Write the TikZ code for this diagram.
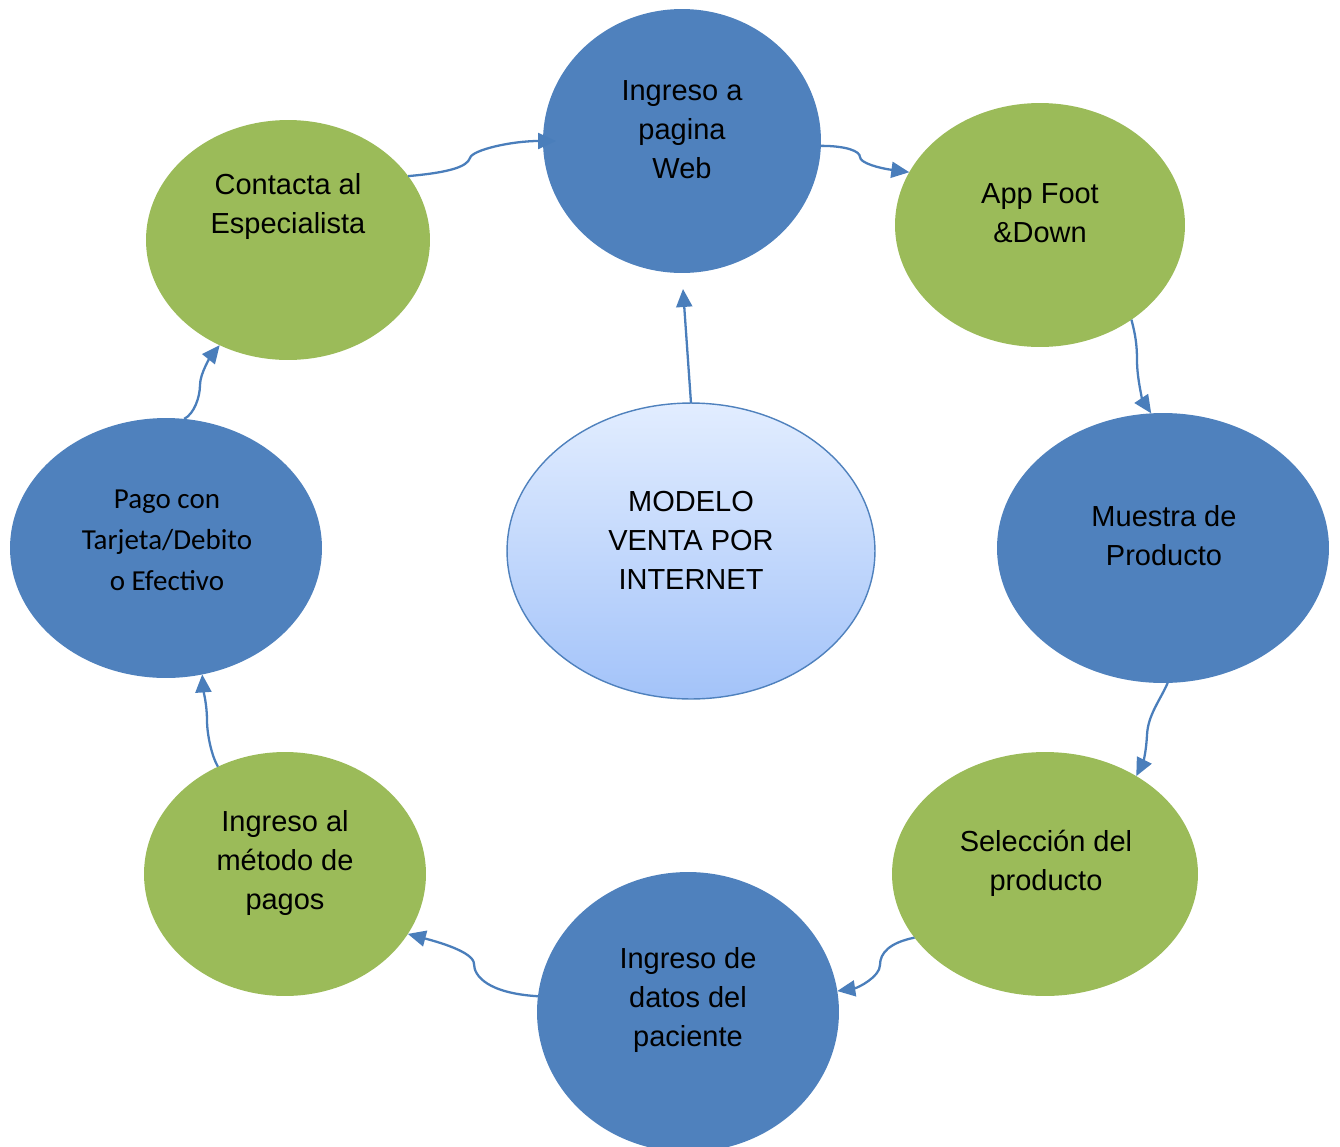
\documentclass[tikz,border=0pt]{standalone}
\usepackage{fontspec}
\setmainfont{Liberation Sans}
\newfontfamily\calibri{Carlito}
\usetikzlibrary{positioning, arrows.meta, shapes.geometric, calc}
\definecolor{bubblue}{HTML}{4F81BD}
\definecolor{bubgreen}{HTML}{9BBB59}
\definecolor{flowblue}{HTML}{4A7EBB}
\definecolor{hubtop}{HTML}{E2EDFF}
\definecolor{hubbottom}{HTML}{A3C3F9}

\begin{document}
\begin{tikzpicture}[
        x=0.02cm, y=-0.02cm,
        bubble/.style={ellipse, inner sep=0pt, outer sep=0pt},
        bluebub/.style={bubble, fill=bubblue},
        greenbub/.style={bubble, fill=bubgreen},
        txt/.style={align=center, font=\fontsize{16.5}{22.2}\selectfont},
        flow/.style={draw=flowblue, line width=1.3pt, -{Triangle[length=0.36cm, width=0.32cm]}},
    ]
        \useasboundingbox (0,0) rectangle (1340,1147);

        % Centre of the cycle
        \node[bubble, draw=bubblue, line width=0.8pt, top color=hubtop, bottom color=hubbottom,
              minimum width=7.36cm, minimum height=5.92cm] (hub) at (691,551) {};
        \node[txt] (hub-t) at (691,540) {MODELO\\VENTA POR\\INTERNET};

        % Steps round the cycle
        \node[bluebub, minimum width=5.56cm, minimum height=5.28cm] (web) at (682,141) {};
        \node[greenbub, minimum width=5.80cm, minimum height=4.88cm] (app) at (1040,225) {};
        \node[bluebub, minimum width=6.64cm, minimum height=5.40cm] (muestra) at (1163,548) {};
        \node[greenbub, minimum width=6.12cm, minimum height=4.88cm] (seleccion) at (1045,874) {};
        \node[bluebub, minimum width=6.04cm, minimum height=5.60cm] (datos) at (688,1012) {};
        \node[greenbub, minimum width=5.64cm, minimum height=4.88cm] (metodo) at (285,874) {};
        \node[bluebub, minimum width=6.24cm, minimum height=5.20cm] (pago) at (166,548) {};
        \node[greenbub, minimum width=5.68cm, minimum height=4.80cm] (contacta) at (288,240) {};

        % Texts of the steps
        \node[txt] (web-t) at (682,130) {Ingreso a\\pagina\\Web};
        \node[txt] (app-t) at (1040,213) {App Foot\\\&Down};
        \node[txt] (muestra-t) at (1164,536) {Muestra de\\Producto};
        \node[txt] (seleccion-t) at (1046,863) {Selección del\\producto};
        \node[txt] (datos-t) at (688,1000) {Ingreso de\\datos del\\paciente};
        \node[txt] (metodo-t) at (285,863) {Ingreso al\\método de\\pagos};
        \node[txt, font=\calibri\fontsize{16.5}{23.3}\selectfont] (pago-t) at (167,540) {Pago con\\Tarjeta/Debito\\o Efectivo};
        \node[txt] (contacta-t) at (288,206) {Contacta al\\Especialista};

        % Connect the steps
        \draw[flow] (contacta.28) .. controls +(45,-4) and +(-3,8) .. (470,158)
            .. controls +(2,-8) and +(-45,0) .. ($(web.180)+(13,0)$);
        \draw[flow] (web.-2) .. controls +(25,0) and +(0,-6) .. (860,157)
            .. controls +(0,6) and +(-30,-4) .. (app.158);
        \draw[flow] (app.-46.5) .. controls +(4,15) and +(0,-15) .. (1137,360)
            .. controls +(0,20) and +(-8,-12) .. (muestra.95);
        \draw[flow] (muestra.-88) .. controls +(-8,18) and +(1,-20) .. (1147,735)
            .. controls +(-1,20) and +(6,-12) .. (seleccion.47);
        \draw[flow] (seleccion.206) .. controls +(-25,5) and +(0,-12) .. (880,965)
            .. controls +(0,12) and +(20,-3) .. (datos.8);
        \draw[flow] (datos.174) .. controls +(-50,-3) and +(0,12) .. (474,964)
            .. controls +(0,-12) and +(30,8) .. (metodo.-26);
        \draw[flow] (metodo.122) .. controls +(-6,-10) and +(0,15) .. (207,720)
            .. controls +(0,-15) and +(1,15) .. (pago.-74);
        \draw[flow] (pago.82) .. controls +(10,-5) and +(0,12) .. (200,385)
            .. controls +(0,-12) and +(-8,10) .. (contacta.237);

        % Centre to the first step
        \draw[flow] (hub.north) -- ($(web.south)+(1,16)$);
\end{tikzpicture}
\end{document}
